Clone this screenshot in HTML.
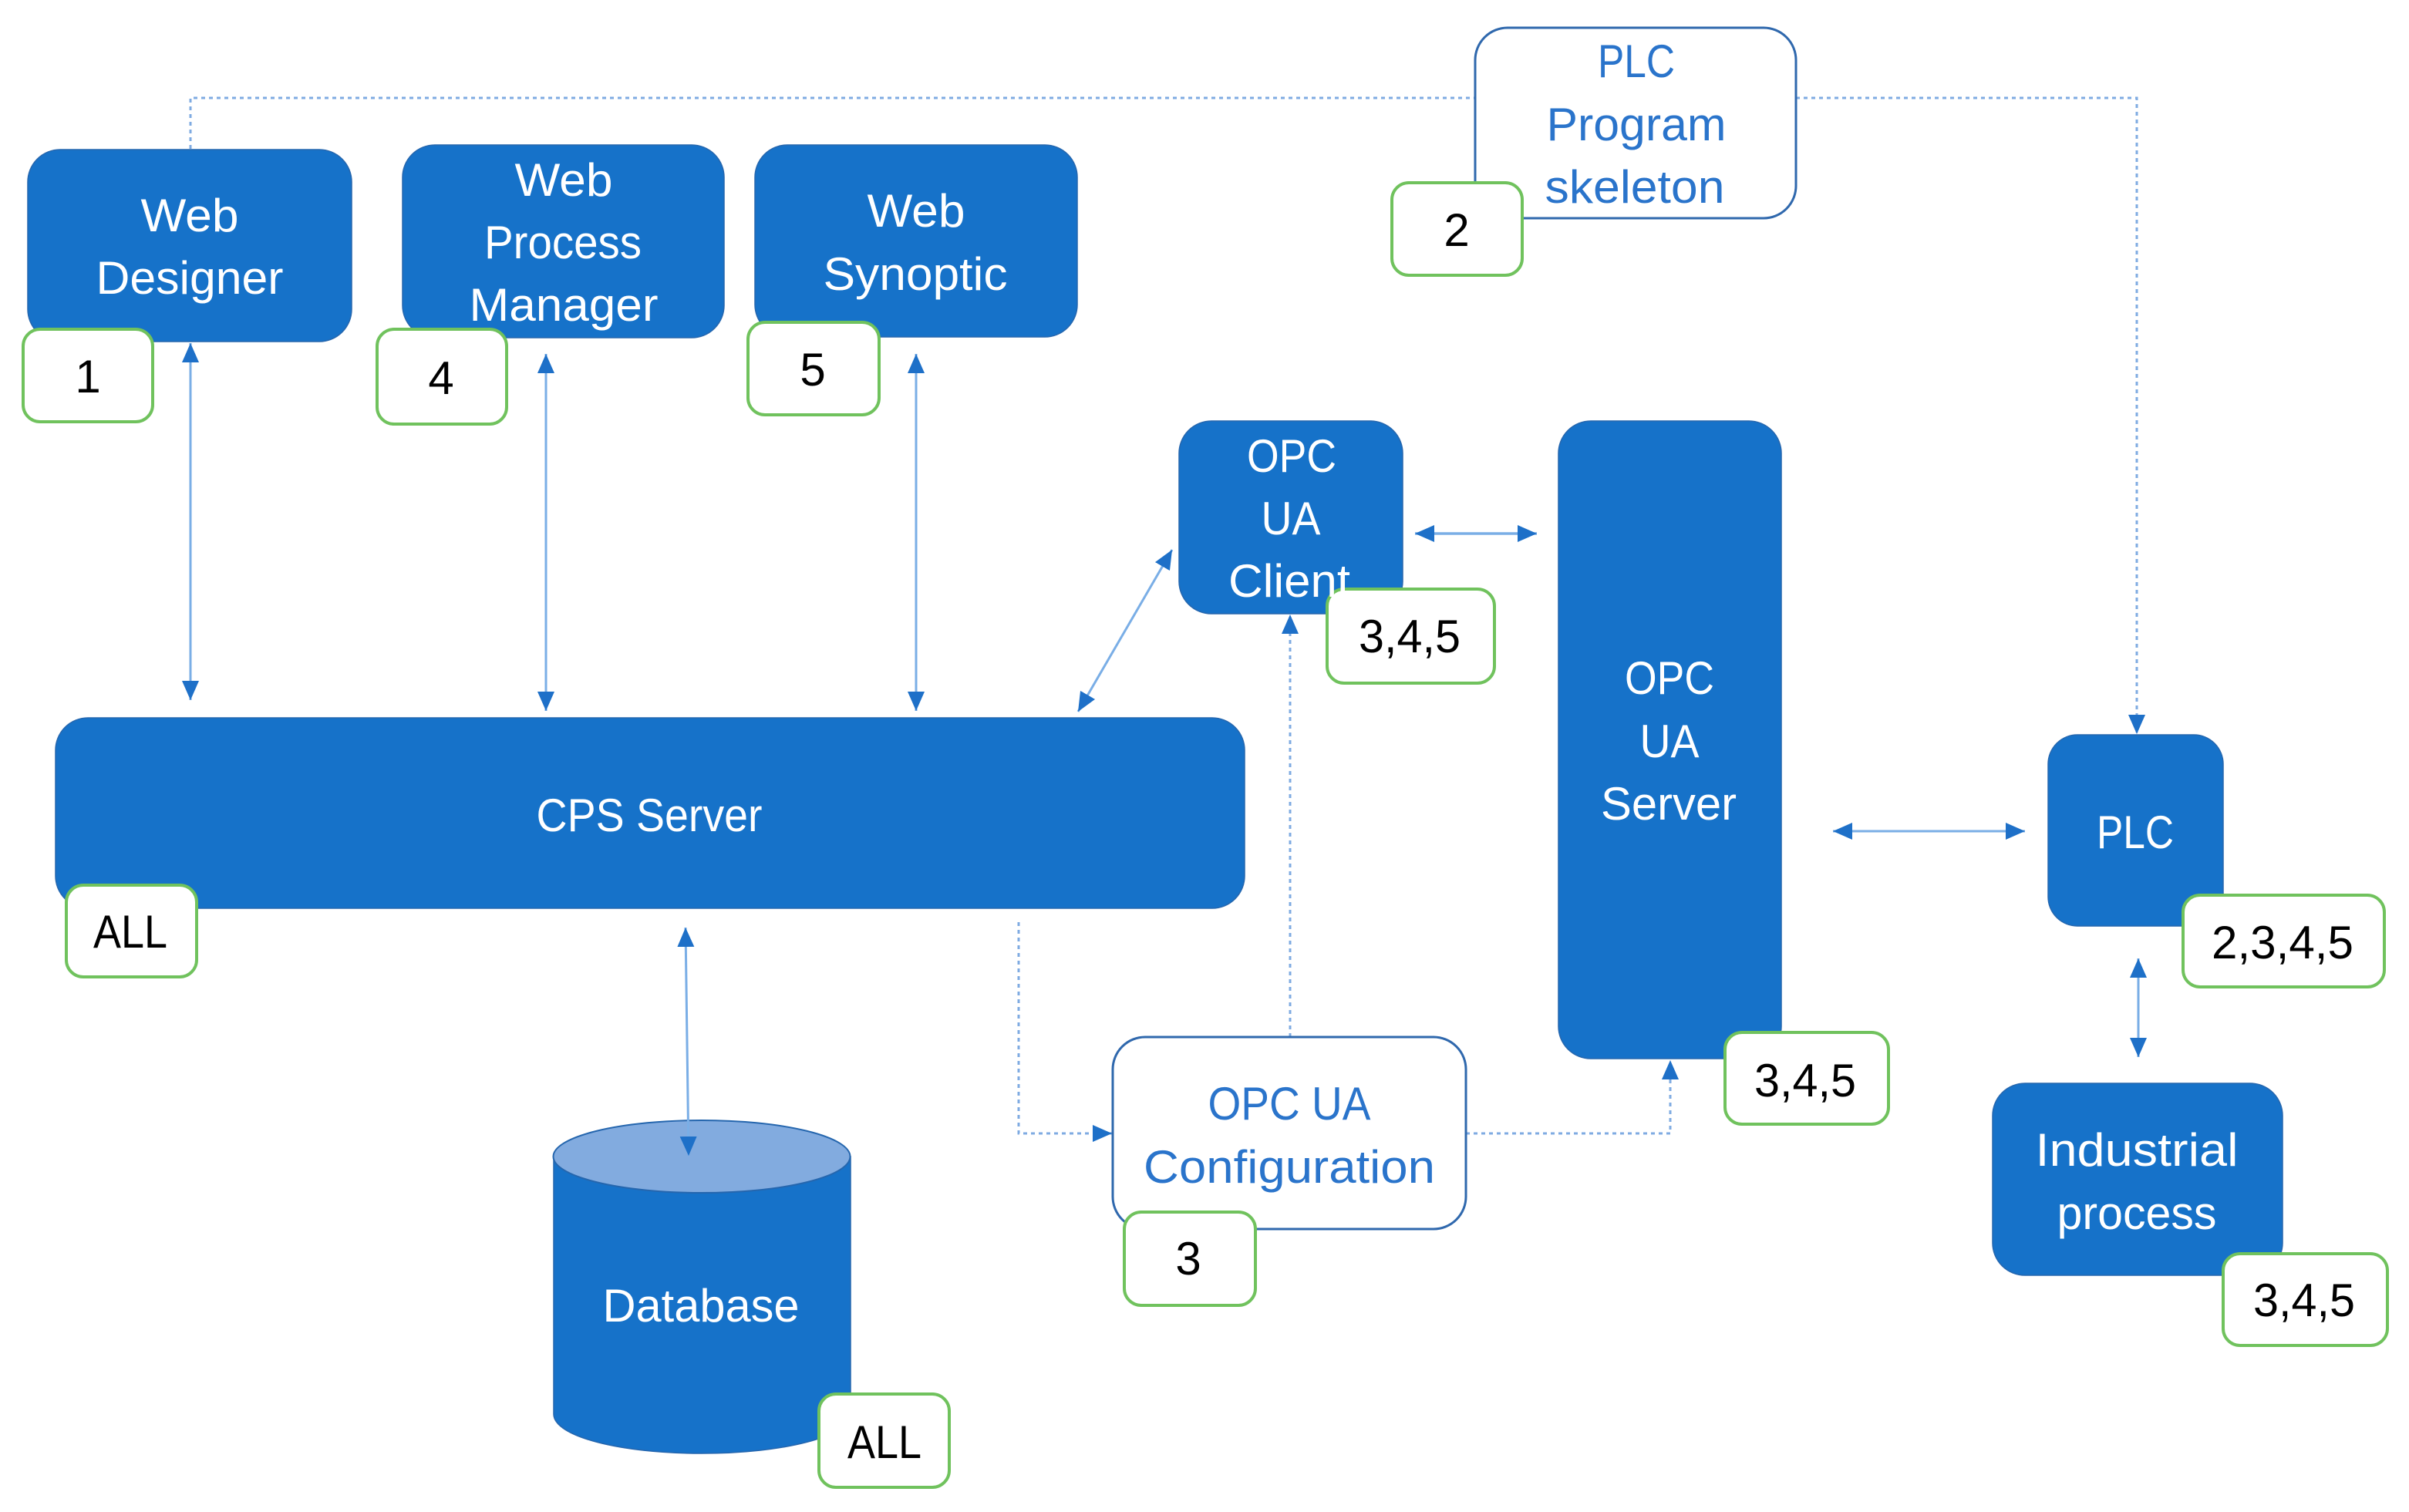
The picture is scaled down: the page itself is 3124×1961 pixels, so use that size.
<!DOCTYPE html>
<html lang="en"><head><meta charset="utf-8"><title>Architecture diagram</title>
<style>html,body{margin:0;padding:0;background:#fff}svg{display:block}
text{font-family:"Liberation Sans",sans-serif;font-size:60px;text-anchor:middle}
.w{fill:#fff}.b{fill:#2a74cb}.k{fill:#000}
.n{fill:#1672c9;stroke:#2566ae;stroke-width:1.500}
.o{fill:#fff;stroke:#2f68ad;stroke-width:3}
.g{fill:#fff;stroke:#70c25d;stroke-width:4}
.a{fill:none;stroke:#7aaee6;stroke-width:3;marker-start:url(#m);marker-end:url(#m)}
.d{fill:none;stroke:#7fabe2;stroke-width:3;stroke-dasharray:5 5}
</style></head><body>
<svg xmlns="http://www.w3.org/2000/svg" width="3124" height="1961" viewBox="0 0 3124 1961">
<defs>
<marker id="m" markerUnits="userSpaceOnUse" markerWidth="26" markerHeight="24" refX="25" refY="12" orient="auto-start-reverse"><path d="M0 1L25 12L0 23Z" fill="#1e70c8"/></marker>
<marker id="e" markerUnits="userSpaceOnUse" markerWidth="26" markerHeight="24" refX="25" refY="12" orient="auto"><path d="M0 1L25 12L0 23Z" fill="#1e70c8"/></marker>
</defs>
<path class="d" d="M247 193V127H1913" />
<path class="d" d="M2329 127H2771V952" marker-end="url(#e)"/>
<path class="d" d="M1673 1345V797" marker-end="url(#e)"/>
<path class="d" d="M1321 1196V1470H1442" marker-end="url(#e)"/>
<path class="d" d="M1901 1470H2166V1375" marker-end="url(#e)"/>

<rect class="n" x="36" y="194" width="420" height="249" rx="42"/>
<rect class="n" x="522" y="188" width="417" height="250" rx="42"/>
<rect class="n" x="979" y="188" width="418" height="249" rx="42"/>
<rect class="n" x="72" y="931" width="1542" height="247" rx="42"/>
<rect class="n" x="1529" y="546" width="290" height="250" rx="42"/>
<rect class="n" x="2021" y="546" width="289" height="827" rx="42"/>
<rect class="n" x="2656" y="953" width="227" height="248" rx="38"/>
<rect class="n" x="2584" y="1405" width="376" height="249" rx="42"/>
<rect class="o" x="1913" y="36" width="416" height="247" rx="42"/>
<rect class="o" x="1443" y="1345" width="458" height="249" rx="42"/>

<path class="n" d="M718 1500V1834C718 1863 804 1885 910 1885S1103 1863 1103 1834V1500Z"/>
<ellipse cx="910" cy="1500" rx="192.500" ry="47" fill="#82abdf" stroke="#2566ae" stroke-width="2"/>

<line class="a" x1="247" y1="445" x2="247" y2="908"/>
<line class="a" x1="708" y1="459" x2="708" y2="922"/>
<line class="a" x1="1188" y1="459" x2="1188" y2="922"/>
<line class="a" x1="1520" y1="713" x2="1398" y2="923"/>
<line class="a" x1="1835" y1="692" x2="1993" y2="692" style="stroke-width:3.500"/>
<line class="a" x1="889" y1="1203" x2="893" y2="1499"/>
<line class="a" x1="2377" y1="1078" x2="2626" y2="1078"/>
<line class="a" x1="2773" y1="1243" x2="2773" y2="1371"/>

<rect class="g" x="30" y="427" width="168" height="120" rx="22"/>
<rect class="g" x="489" y="427" width="168" height="123" rx="22"/>
<rect class="g" x="970" y="418" width="170" height="120" rx="22"/>
<rect class="g" x="1805" y="237" width="169" height="120" rx="22"/>
<rect class="g" x="1721" y="764" width="217" height="122" rx="22"/>
<rect class="g" x="86" y="1148" width="169" height="119" rx="22"/>
<rect class="g" x="1458" y="1572" width="170" height="121" rx="22"/>
<rect class="g" x="1062" y="1808" width="169" height="121" rx="22"/>
<rect class="g" x="2237" y="1339" width="212" height="119" rx="22"/>
<rect class="g" x="2831" y="1161" width="261" height="119" rx="22"/>
<rect class="g" x="2883" y="1626" width="213" height="119" rx="22"/>

<g class="w">
<text x="246" y="300" textLength="127" lengthAdjust="spacingAndGlyphs">Web</text>
<text x="246" y="381" textLength="243" lengthAdjust="spacingAndGlyphs">Designer</text>
<text x="731" y="254" textLength="127" lengthAdjust="spacingAndGlyphs">Web</text>
<text x="730" y="335" textLength="204" lengthAdjust="spacingAndGlyphs">Process</text>
<text x="731" y="416" textLength="245" lengthAdjust="spacingAndGlyphs">Manager</text>
<text x="1188" y="294" textLength="127" lengthAdjust="spacingAndGlyphs">Web</text>
<text x="1187" y="376" textLength="239" lengthAdjust="spacingAndGlyphs">Synoptic</text>
<text x="842" y="1078" textLength="293" lengthAdjust="spacingAndGlyphs">CPS Server</text>
<text x="1675" y="612" textLength="116" lengthAdjust="spacingAndGlyphs">OPC</text>
<text x="1674" y="693" textLength="77" lengthAdjust="spacingAndGlyphs">UA</text>
<text x="1672" y="774" textLength="158" lengthAdjust="spacingAndGlyphs">Client</text>
<text x="2165" y="900" textLength="116" lengthAdjust="spacingAndGlyphs">OPC</text>
<text x="2165" y="982" textLength="77" lengthAdjust="spacingAndGlyphs">UA</text>
<text x="2164" y="1063" textLength="176" lengthAdjust="spacingAndGlyphs">Server</text>
<text x="909" y="1714" textLength="255" lengthAdjust="spacingAndGlyphs">Database</text>
<text x="2769" y="1100" textLength="100" lengthAdjust="spacingAndGlyphs">PLC</text>
<text x="2771" y="1512" textLength="263" lengthAdjust="spacingAndGlyphs">Industrial</text>
<text x="2771" y="1594" textLength="207" lengthAdjust="spacingAndGlyphs">process</text>
</g>
<g class="b">
<text x="2122" y="100" textLength="100" lengthAdjust="spacingAndGlyphs">PLC</text>
<text x="2122" y="182" textLength="233" lengthAdjust="spacingAndGlyphs">Program</text>
<text x="2120" y="263" textLength="233" lengthAdjust="spacingAndGlyphs">skeleton</text>
<text x="1672" y="1452" textLength="211" lengthAdjust="spacingAndGlyphs">OPC UA</text>
<text x="1672" y="1534" textLength="378" lengthAdjust="spacingAndGlyphs">Configuration</text>
</g>
<g class="k">
<text x="114" y="509">1</text>
<text x="572" y="511">4</text>
<text x="1054" y="500">5</text>
<text x="1889" y="319">2</text>
<text x="1828" y="846" textLength="132" lengthAdjust="spacingAndGlyphs">3,4,5</text>
<text x="169" y="1229" textLength="96" lengthAdjust="spacingAndGlyphs">ALL</text>
<text x="1541" y="1653">3</text>
<text x="1147" y="1891" textLength="96" lengthAdjust="spacingAndGlyphs">ALL</text>
<text x="2341" y="1422" textLength="132" lengthAdjust="spacingAndGlyphs">3,4,5</text>
<text x="2960" y="1243" textLength="184" lengthAdjust="spacingAndGlyphs">2,3,4,5</text>
<text x="2988" y="1707" textLength="132" lengthAdjust="spacingAndGlyphs">3,4,5</text>
</g>
</svg>
</body></html>
